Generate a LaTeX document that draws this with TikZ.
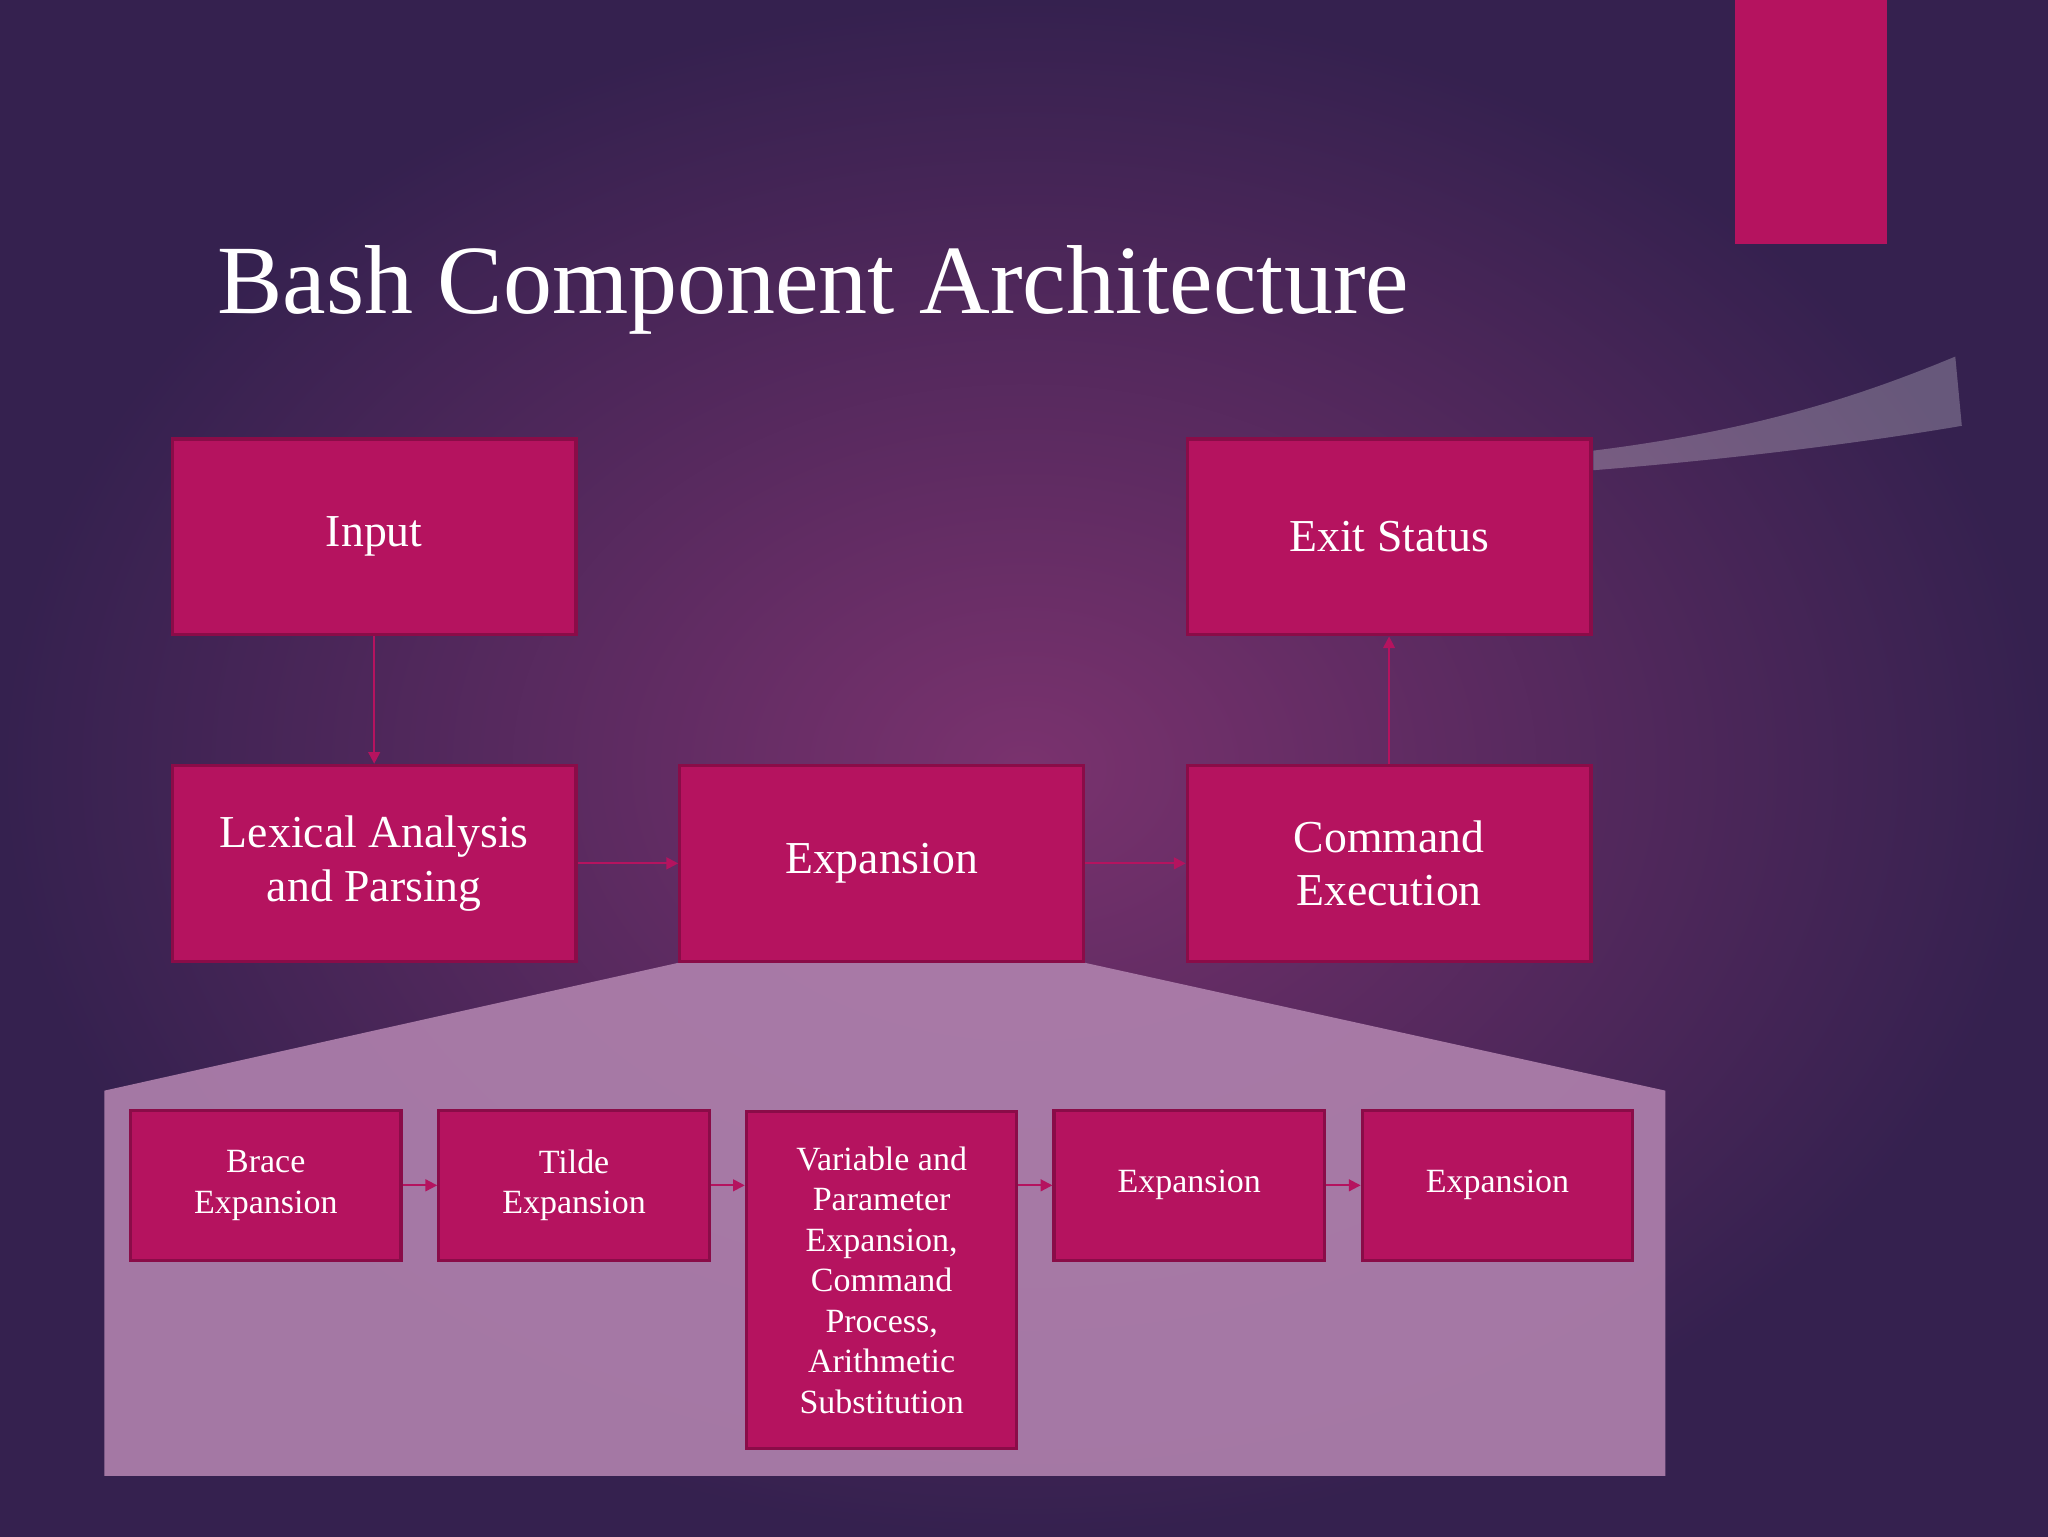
\documentclass[tikz,border=0pt]{standalone}
\usepackage{fontspec}
\setmainfont{Liberation Serif}
\usetikzlibrary{arrows.meta}
\definecolor{bgout}{HTML}{35214F}
\definecolor{bgin}{HTML}{7A326E}
\definecolor{boxfill}{HTML}{B5135F}
\definecolor{boxline}{HTML}{8A0C48}
\definecolor{panel}{HTML}{AE80AC}
\tikzset{
  blk/.style={draw=boxline, line width=2.5pt, fill=boxfill, text=white, align=center},
  big/.style={blk, minimum width=309pt, minimum height=150pt, font=\fontsize{35}{41}\selectfont},
  small/.style={blk, minimum width=207pt, minimum height=115pt, font=\fontsize{26}{31}\selectfont},
  flow/.style={draw=boxfill, line width=1.5pt, -{Triangle[length=9pt,width=9pt]}}
}
\begin{document}
\begin{tikzpicture}[x=1pt,y=-1pt]
\useasboundingbox (0,0) rectangle (1568,1176);
\shade[inner color=bgin, outer color=bgout] (0,0) rectangle (1568,1176);
% decoration
\fill[boxfill] (1328,0) rectangle (1445,187);
\fill[white, opacity=0.25] (1220,345) .. controls (1340,330) and (1420,305) .. (1497,273) -- (1502,326) .. controls (1420,340) and (1320,352) .. (1220,360) -- cycle;
% title
\node[anchor=west, text=white, font=\fontsize{75}{85}\selectfont] (title) at (163,222) {Bash Component Architecture};
% zoom panel
\fill[panel, opacity=0.92] (520,737) -- (830,737) -- (1275,835) -- (1275,1130) -- (80,1130) -- (80,835) -- cycle;
% top row
\node[big] (input) at (286.5,411) {Input};
\node[big] (exit) at (1063.5,411) {Exit Status};
\node[big] (lex) at (286.5,661) {Lexical Analysis\\and Parsing};
\node[big] (expand) at (675,661) {Expansion};
\node[big] (exec) at (1063.5,661) {Command\\Execution};
% bottom row
\node[small] (brace) at (203.5,907.5) {Brace\\Expansion};
\node[small] (tilde) at (439.5,907.5) {Tilde\\Expansion};
\node[small, minimum height=258pt, anchor=north] (var) at (675,850) {Variable and\\Parameter\\Expansion,\\Command\\Process,\\Arithmetic\\Substitution};
\node[small] (exp1) at (910.5,907.5) {Expansion};
\node[small] (exp2) at (1146.5,907.5) {Expansion};
\draw[flow] (input) -- (lex);
\draw[flow] (lex) -- (expand);
\draw[flow] (expand) -- (exec);
\draw[flow] (exec) -- (exit);
\draw[flow] (brace) -- (tilde);
\draw[flow] (tilde.east) -- (tilde.east -| var.west);
\draw[flow] (var.east |- exp1.west) -- (exp1.west);
\draw[flow] (exp1) -- (exp2);
\end{tikzpicture}
\end{document}
